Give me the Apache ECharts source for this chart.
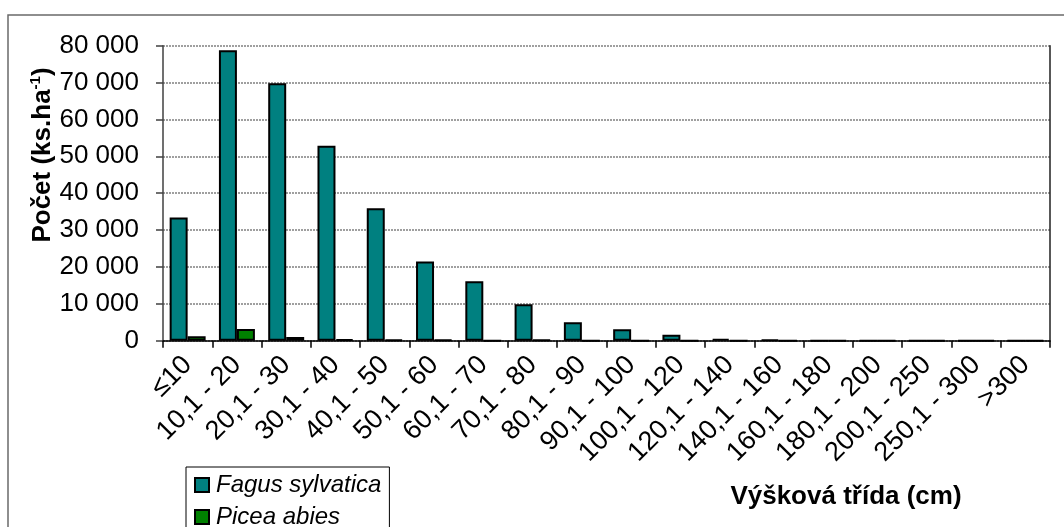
<!DOCTYPE html>
<html>
<head>
<meta charset="utf-8">
<title>Výšková třída</title>
<script src="https://cdn.jsdelivr.net/npm/echarts@6/dist/echarts.min.js"></script>
<style>
  html, body { margin: 0; padding: 0; background: #fff; }
  #main { width: 1064px; height: 527px; }
</style>
</head>
<body>
<div id="main"></div>
<script>
    // výškové třídy (cm)
    var categories = ['≤10', '10,1 - 20', '20,1 - 30', '30,1 - 40', '40,1 - 50', '50,1 - 60',
        '60,1 - 70', '70,1 - 80', '80,1 - 90', '90,1 - 100', '100,1 - 120', '120,1 - 140',
        '140,1 - 160', '160,1 - 180', '180,1 - 200', '200,1 - 250', '250,1 - 300', '>300'];
    // počet jedinců (ks/ha)
    var fagus = [33400, 78800, 69800, 52900, 35900, 21500, 16100, 9900, 5000, 3100, 1600, 500, 300, 0, 0, 0, 0, 0];
    var picea = [1200, 3200, 1000, 400, 300, 200, 0, 200, 0, 0, 0, 0, 0, 0, 0, 0, 0, 0];
    var yTicks = [0, 10000, 20000, 30000, 40000, 50000, 60000, 70000, 80000];

    var FONT = 'Liberation Sans, Arial, sans-serif';

    function mezery(v) {
        return String(v).replace(/\B(?=(\d{3})+(?!\d))/g, ' ');
    }

    var myChart = echarts.init(document.getElementById('main'));

    var option = {
        animation: false,
        backgroundColor: '#fff',
        textStyle: { fontFamily: FONT },
        grid: { left: 163, right: 14, top: 45.7, bottom: 186.3, containLabel: false },
        legend: {
            orient: 'vertical',
            left: 186,
            top: 467,
            width: 204,
            height: 90,
            padding: [6, 8, 6, 8],
            itemGap: 8,
            itemWidth: 14,
            itemHeight: 14,
            borderColor: '#000',
            borderWidth: 1,
            backgroundColor: '#fff',
            icon: 'rect',
            textStyle: { fontFamily: FONT, fontSize: 24, fontStyle: 'italic', color: '#000', padding: [0, 0, 0, 2] },
            data: ['Fagus sylvatica', 'Picea abies']
        },
        xAxis: {
            type: 'category',
            data: categories,
            axisLine: { lineStyle: { color: '#000', width: 1.5 } },
            axisTick: { show: true, length: 7, lineStyle: { color: '#000', width: 1.5 } },
            axisLabel: { rotate: 45, margin: 20, fontSize: 27, color: '#000', fontFamily: FONT, interval: 0 },
            splitLine: { show: false }
        },
        yAxis: [{
            type: 'value',
            min: yTicks[0],
            max: yTicks[yTicks.length - 1],
            interval: yTicks[1] - yTicks[0],
            axisLine: { show: true, lineStyle: { color: '#404040', width: 1.5 } },
            axisTick: { show: true, length: 7, lineStyle: { color: '#404040', width: 1.5 } },
            axisLabel: { fontSize: 26, color: '#000', fontFamily: FONT, margin: 24, formatter: mezery },
            splitLine: { show: true, lineStyle: { color: '#808080', type: [2, 1], width: 1.5 } }
        }, {
            // pravý okraj plochy grafu
            type: 'value',
            position: 'right',
            min: yTicks[0],
            max: yTicks[yTicks.length - 1],
            interval: yTicks[1] - yTicks[0],
            axisLine: { show: true, lineStyle: { color: '#202020', width: 1.5 } },
            axisTick: { show: false },
            axisLabel: { show: false },
            splitLine: { show: false }
        }],
        series: [{
            name: 'Fagus sylvatica',
            type: 'bar',
            data: fagus,
            barGap: '0%',
            barCategoryGap: '27%',
            itemStyle: { color: '#008080', borderColor: '#000', borderWidth: 2 }
        }, {
            name: 'Picea abies',
            type: 'bar',
            data: picea,
            barGap: '0%',
            barCategoryGap: '27%',
            itemStyle: { color: '#008000', borderColor: '#000', borderWidth: 2 }
        }],
        graphic: [{
            type: 'rect',
            silent: true,
            z: -10,
            shape: { x: 8, y: 15, width: 1100, height: 600 },
            style: { fill: 'none', stroke: '#6a6a6a', lineWidth: 1.5 }
        }, {
            type: 'text',
            x: 43,
            y: 155,
            rotation: Math.PI / 2,
            style: {
                text: '{a|Počet (ks.ha}{s|-1}{a|)}',
                align: 'center',
                verticalAlign: 'middle',
                fill: '#000',
                rich: {
                    a: { fontSize: 26, fontWeight: 'bold', fontFamily: FONT, lineHeight: 30 },
                    s: { fontSize: 15, fontWeight: 'bold', fontFamily: FONT, verticalAlign: 'top', lineHeight: 30 }
                }
            }
        }, {
            type: 'text',
            x: 846,
            y: 497,
            style: {
                text: 'Výšková třída (cm)',
                align: 'center',
                verticalAlign: 'middle',
                fill: '#000',
                fontSize: 26,
                fontWeight: 'bold',
                fontFamily: FONT
            }
        }]
    };

    myChart.setOption(option);
</script>
</body>
</html>
